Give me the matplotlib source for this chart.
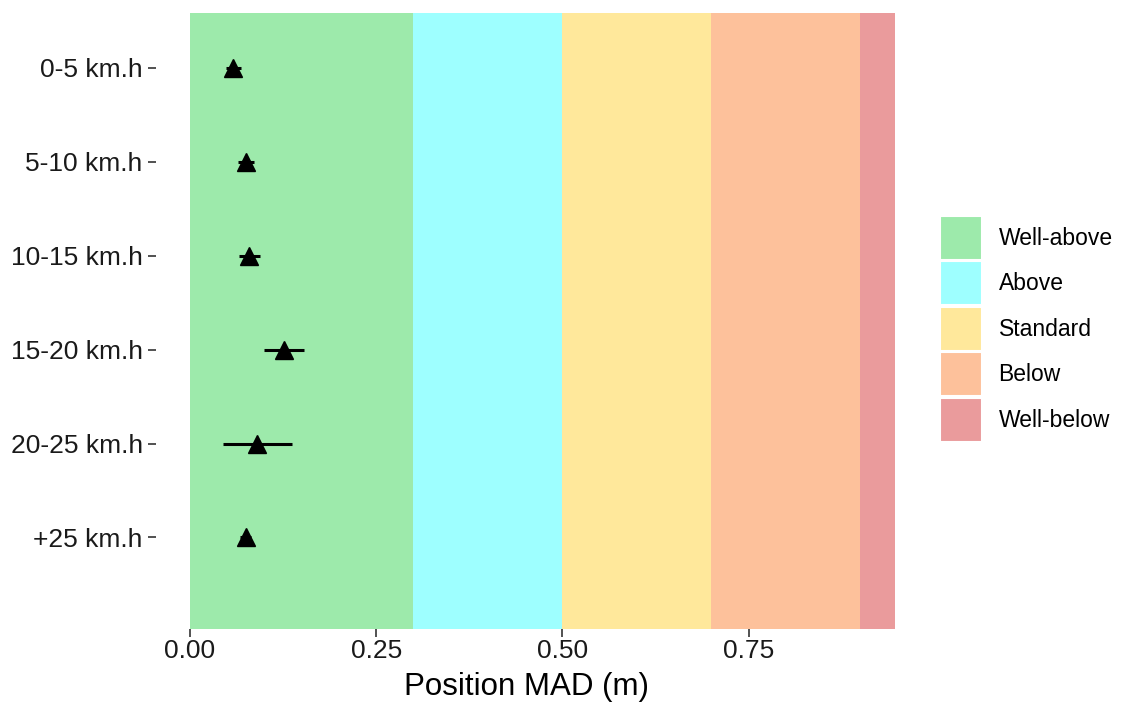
import matplotlib.pyplot as plt
from matplotlib.patches import Patch

plt.rcParams["font.family"] = ["Liberation Sans", "DejaVu Sans"]

# speed classes, top to bottom
speeds = ["0-5 km.h", "5-10 km.h", "10-15 km.h", "15-20 km.h", "20-25 km.h", "+25 km.h"]
mad = [0.058, 0.075, 0.079, 0.126, 0.090, 0.075]
mad_lo = [0.048, 0.064, 0.066, 0.100, 0.044, 0.067]
mad_hi = [0.068, 0.086, 0.094, 0.153, 0.137, 0.082]

# performance bands
band_names = ["Well-above", "Above", "Standard", "Below", "Well-below"]
band_edges = [0.0, 0.3, 0.5, 0.7, 0.9, 0.946]
band_colors = ["#9DEAAB", "#9EFFFF", "#FFE89B", "#FDC19B", "#EA9B9C"]

fig = plt.figure(figsize=(11.24, 7.04), dpi=100)
ax = fig.add_axes([0.169, 0.107, 0.627, 0.874])

for i in range(len(band_names)):
    ax.axvspan(band_edges[i], band_edges[i + 1], color=band_colors[i], lw=0)

ypos = [len(speeds) - i for i in range(len(speeds))]
xerr = [[m - lo for m, lo in zip(mad, mad_lo)], [hi - m for m, hi in zip(mad, mad_hi)]]
ax.errorbar(mad, ypos, xerr=xerr, fmt="none", ecolor="black", elinewidth=2.2, capsize=0)
ax.plot(mad, ypos, "^", color="black", markersize=13, ls="none")

ax.set_xlim(band_edges[0], band_edges[-1])
ax.set_ylim(0.03, 6.576)
ax.set_yticks(ypos)
ax.set_yticklabels(speeds)
ax.set_xticks([0, 0.25, 0.5, 0.75])
ax.set_xticklabels(["0.00", "0.25", "0.50", "0.75"])
ax.tick_params(labelsize=19, colors="#333333", labelcolor="#1a1a1a", length=5.5, width=1.2)
ax.tick_params(axis="x", pad=2)
ax.tick_params(axis="y", pad=4)
for s in ax.spines.values():
    s.set_visible(False)
ax.spines["left"].set_position(("outward", 24.5))
ax.set_xlabel("Position MAD (m)", fontsize=22.5, color="black")
ax.xaxis.set_label_coords(0.477, -0.07)

handles = [Patch(facecolor=c, edgecolor="white", lw=1.5) for c in band_colors]
leg = fig.legend(handles, band_names, loc="center left", bbox_to_anchor=(0.836, 0.533),
                 frameon=False, fontsize=16.5, handlelength=1.85, handleheight=2.6,
                 labelspacing=0.05, handletextpad=0.72, borderaxespad=0, borderpad=0)

plt.savefig("out.png", dpi=100)
